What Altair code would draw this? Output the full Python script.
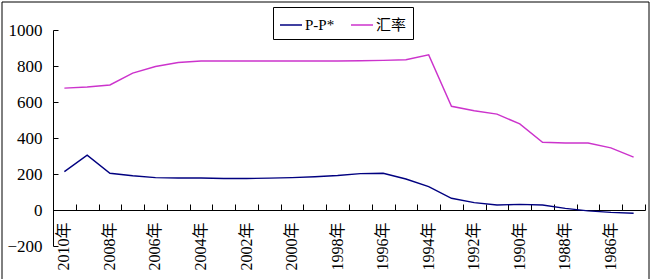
import altair as alt
import pandas as pd

years = list(range(2010, 1984, -1))
labels = [f"{y}年" for y in years]
ppp = [213, 305, 204, 190, 180, 178, 178, 175, 175, 177, 180, 185, 192,
       202, 204, 172, 130, 65, 41, 28, 31, 28, 9, -5, -13, -18]
rate = [676.95, 683.10, 694.51, 760.40, 797.18, 819.17, 827.68, 827.70,
        827.70, 827.70, 827.84, 827.83, 827.91, 828.98, 831.42, 835.10,
        861.87, 576.20, 551.46, 532.33, 478.32, 376.51, 372.21, 372.21,
        345.28, 293.66]
y_ticks = [-200, 0, 200, 400, 600, 800, 1000]
series_names = ["P-P*", "汇率"]
series_colors = ["#000080", "#cc33cc"]

rows = []
for lab, a, b in zip(labels, ppp, rate):
    rows.append({"label": lab, "series": series_names[0], "value": a})
    rows.append({"label": lab, "series": series_names[1], "value": b})
df = pd.DataFrame(rows)

FONT = "Liberation Serif, Noto Sans CJK SC"

xscale = alt.Scale(type="band", paddingInner=0, paddingOuter=0)
yscale = alt.Scale(domain=[-200, 1000], nice=False, zero=False)

base = alt.Chart(df)

lines = base.mark_line(strokeWidth=1.4).encode(
    x=alt.X("label:N", sort=labels, scale=xscale, bandPosition=0.5,
            axis=alt.Axis(orient="bottom", offset=-36, domain=False, ticks=False,
                          labelAngle=-90, labelAlign="right", labelBaseline="middle",
                          labelPadding=12, labelOverlap=False,
                          labelExpr="parseInt(datum.value) % 2 == 0 ? datum.value : ''",
                          labelFont=FONT, labelFontSize=16, labelColor="black",
                          title=None)),
    y=alt.Y("value:Q", scale=yscale,
            axis=alt.Axis(orient="left", values=y_ticks, format="d",
                          domain=False, ticks=False, grid=False, labelPadding=11,
                          labelFont=FONT, labelFontSize=17, labelColor="black",
                          title=None)),
    color=alt.Color("series:N", sort=series_names,
                    scale=alt.Scale(domain=series_names, range=series_colors),
                    legend=alt.Legend(orient="none", legendX=220, legendY=-23,
                                      direction="horizontal", title=None,
                                      symbolType="stroke", symbolSize=484,
                                      symbolStrokeWidth=1.5, labelFont=FONT,
                                      labelFontSize=15, labelColor="black",
                                      labelOffset=2, columnPadding=13,
                                      padding=6, strokeColor="black",
                                      fillColor="white")),
)

axes_layer = base.mark_point(opacity=0).encode(
    x=alt.X("label:N", sort=labels, scale=xscale, bandPosition=0.5,
            axis=alt.Axis(orient="top", offset=-180, domain=True, domainColor="black",
                          ticks=True, tickColor="black", tickSize=6, tickBand="extent",
                          labels=False, title=None)),
    y=alt.Y("value:Q", scale=yscale,
            axis=alt.Axis(orient="right", offset=-592, values=y_ticks,
                          domain=True, domainColor="black", ticks=True, tickColor="black",
                          tickSize=5, labels=False, grid=False, title=None)),
)

frame = alt.Chart(pd.DataFrame({"a": [0]})).mark_rect(
    fill=None, stroke="black", strokeWidth=1
).encode(
    x=alt.value(-51), x2=alt.value(596), y=alt.value(-28), y2=alt.value(260)
)

chart = alt.layer(lines, axes_layer, frame).resolve_axis(
    x="independent", y="independent"
).properties(
    width=592, height=216,
    autosize=alt.AutoSizeParams(type="none"),
    padding={"left": 53, "top": 30, "right": 7, "bottom": 33},
    background="white",
).configure_view(stroke=None)

chart.save("out.html", embed_options={"renderer": "svg", "actions": False})
